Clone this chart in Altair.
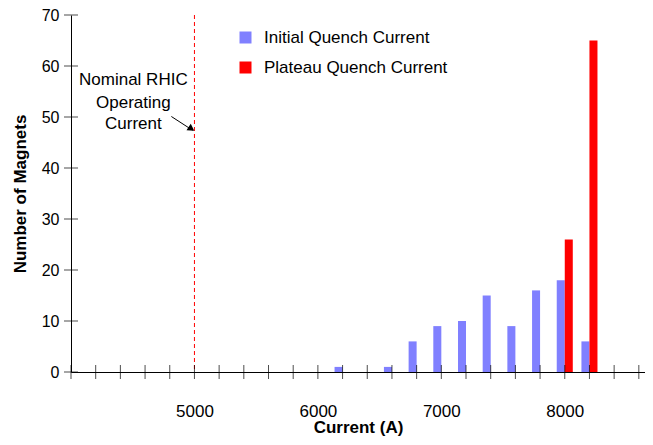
import altair as alt
import pandas as pd

# Data
initial_current = [6200, 6600, 6800, 7000, 7200, 7400, 7600, 7800, 8000, 8200]
initial_count = [1, 1, 6, 9, 10, 15, 9, 16, 18, 6]
plateau_current = [8000, 8200]
plateau_count = [26, 65]
series_names = ["Initial Quench Current", "Plateau Quench Current"]
series_colors = ["#8080FF", "#FF0000"]
x_ticks = list(range(4000, 8601, 200))
y_ticks = list(range(0, 71, 10))
nominal_current = 5000
note_lines = ["Nominal RHIC", "Operating", "Current"]
note_y = [57.3, 52.8, 48.6]

FONT = "Liberation Sans"
BAR_W = 65

bars_df = pd.DataFrame(
    {"current": initial_current + plateau_current,
     "count": initial_count + plateau_count,
     "series": [series_names[0]] * len(initial_current) + [series_names[1]] * len(plateau_current)}
)

xs = alt.Scale(domain=[4000, 8650], nice=False, zero=False)
ys = alt.Scale(domain=[0, 70], nice=False)

x_axis = alt.Axis(values=x_ticks, ticks=False, grid=False, domainColor="black",
                  labelOverlap=False,
                  labelExpr="(datum.value % 1000 == 0 && datum.value > 4000) ? format(datum.value, 'd') : ''",
                  labelFont=FONT, labelFontSize=17, labelColor="black", labelPadding=31,
                  titleFont=FONT, titleFontSize=17, titleFontWeight="bold", titleColor="black",
                  titlePadding=0)
y_axis = alt.Axis(values=y_ticks, ticks=False, grid=False, domainColor="black",
                  labelOverlap=False,
                  labelFont=FONT, labelFontSize=16, labelColor="black", labelPadding=12,
                  titleFont=FONT, titleFontSize=17, titleFontWeight="bold", titleColor="black",
                  titlePadding=12)

bars = alt.Chart(bars_df).transform_calculate(
    x0=f"datum.series == '{series_names[0]}' ? datum.current - {BAR_W} : datum.current",
    x1=f"datum.series == '{series_names[0]}' ? datum.current : datum.current + {BAR_W}",
).mark_bar().encode(
    x=alt.X("x0:Q", scale=xs, title="Current (A)", axis=x_axis),
    x2="x1:Q",
    y=alt.Y("count:Q", scale=ys, title="Number of Magnets", axis=y_axis),
    y2=alt.datum(0),
    color=alt.Color("series:N", scale=alt.Scale(domain=series_names, range=series_colors),
                    legend=alt.Legend(title=None, orient="none", legendX=166, legendY=14,
                                      symbolType="square", symbolSize=144, symbolStrokeWidth=0,
                                      labelLimit=400,
                                      labelFont=FONT, labelFontSize=17, labelColor="black",
                                      labelOffset=10, rowPadding=12, padding=0)),
)

xt_df = pd.DataFrame({"x": x_ticks})
xticks = alt.Chart(xt_df).mark_tick(orient="vertical", color="black", size=14, thickness=1).encode(
    x=alt.X("x:Q", scale=xs, title="Current (A)", axis=x_axis),
    y=alt.datum(0, scale=ys, title="Number of Magnets", axis=y_axis)
)
yt_df = pd.DataFrame({"y": y_ticks})
yticks = alt.Chart(yt_df).mark_tick(orient="horizontal", color="black", size=14, thickness=1).encode(
    y=alt.Y("y:Q", scale=ys, title="Number of Magnets", axis=y_axis),
    x=alt.datum(4000, scale=xs, title="Current (A)", axis=x_axis)
)

vline = alt.Chart(pd.DataFrame({"x": [nominal_current]})).mark_rule(
    color="#FF0000", strokeDash=[4, 3], strokeWidth=1
).encode(x=alt.X("x:Q", scale=xs, title="Current (A)", axis=x_axis))

note_df = pd.DataFrame({"text": note_lines, "y": note_y, "x": [4505] * 3})
note = alt.Chart(note_df).mark_text(font=FONT, fontSize=17, color="black", align="center",
                                    baseline="middle").encode(
    x=alt.X("x:Q", scale=xs, title="Current (A)", axis=x_axis),
    y=alt.Y("y:Q", scale=ys, title="Number of Magnets", axis=y_axis),
    text="text:N"
)

arrow_df = pd.DataFrame({"x": [4813], "y": [50.1], "x2": [4985], "y2": [47.4]})
arrow_line = alt.Chart(arrow_df).mark_rule(color="black", strokeWidth=1).encode(
    x=alt.X("x:Q", scale=xs, title="Current (A)", axis=x_axis),
    y=alt.Y("y:Q", scale=ys, title="Number of Magnets", axis=y_axis),
    x2="x2:Q", y2="y2:Q"
)
head_df = pd.DataFrame({"x": [4968], "y": [47.8]})
arrow_head = alt.Chart(head_df).mark_point(shape="triangle", filled=True, color="black",
                                           size=60, angle=123, opacity=1).encode(
    x=alt.X("x:Q", scale=xs, title="Current (A)", axis=x_axis),
    y=alt.Y("y:Q", scale=ys, title="Number of Magnets", axis=y_axis)
)

chart = alt.layer(bars, vline, xticks, yticks, note, arrow_line, arrow_head).properties(
    width=574, height=357,
    autosize=alt.AutoSizeParams(type="none"),
    padding={"left": 63, "top": 7, "right": 0, "bottom": 65},
).configure_view(stroke=None).configure_axis(domainWidth=1, labelOverlap=False)

chart.save("out.html", embed_options={"renderer": "svg", "actions": False})
